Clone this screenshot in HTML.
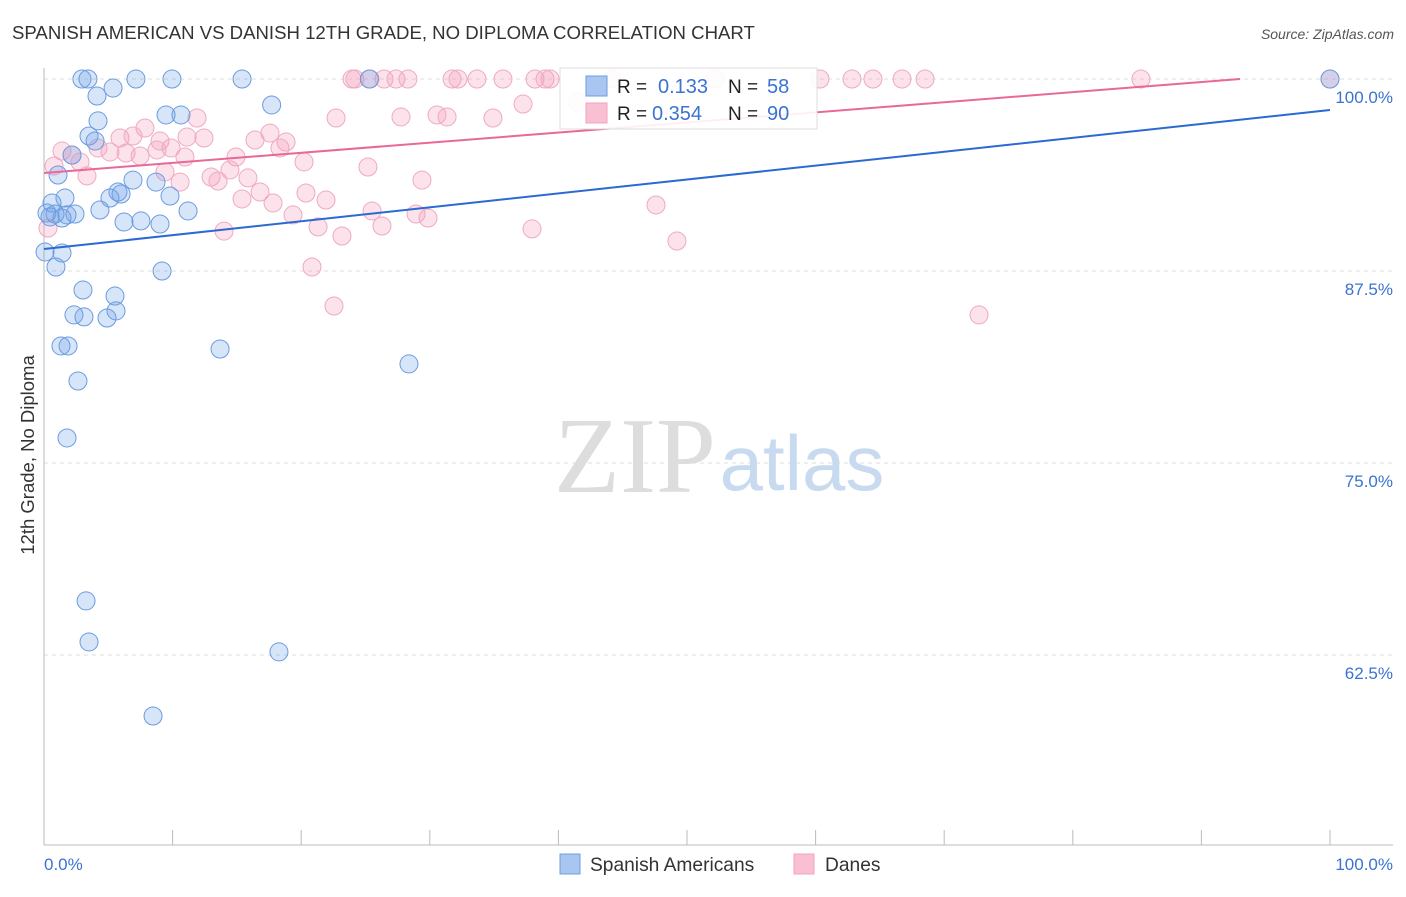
<!DOCTYPE html>
<html><head><meta charset="utf-8"><style>
body{margin:0;background:#fff;font-family:"Liberation Sans",sans-serif;}
svg text{font-family:"Liberation Sans",sans-serif;}
</style></head><body>
<svg id="chart" width="1406" height="892">
<text x="12" y="39" font-size="18.6" fill="#333">SPANISH AMERICAN VS DANISH 12TH GRADE, NO DIPLOMA CORRELATION CHART</text>
<text x="1394" y="39" font-size="14" fill="#555" text-anchor="end" font-style="italic">Source: ZipAtlas.com</text>
<g id="grid"></g>
<g>
<text x="635" y="492" font-size="108" fill="#ddd" text-anchor="middle" style="font-family:'Liberation Serif',serif">ZIP</text>
<text x="802" y="490" font-size="78" fill="#c8daf0" text-anchor="middle">atlas</text>
</g>
<g id="points"></g>
<g id="lines"></g>
<text x="34" y="455" font-size="18.5" fill="#333" text-anchor="middle" transform="rotate(-90 34 455)">12th Grade, No Diploma</text>
<text x="44" y="870" font-size="17" fill="#3b73d1">0.0%</text>
<text x="1393" y="870" font-size="17" fill="#3b73d1" text-anchor="end">100.0%</text>
<g>
<rect x="560" y="68" width="257" height="61" fill="#fff" fill-opacity="0.9" stroke="#ddd"/>
<rect x="586" y="76" width="21" height="20" fill="#a9c6f0" stroke="#6d9de0"/>
<rect x="586" y="103" width="21" height="20" fill="#f8c0d2" stroke="#f0a4bd"/>
<text x="617" y="93" font-size="19" fill="#222">R = </text><text x="658" y="93" font-size="20" fill="#3b73d1">0.133</text>
<text x="728" y="93" font-size="19" fill="#222">N = </text><text x="767" y="93" font-size="20" fill="#3b73d1">58</text>
<text x="617" y="120" font-size="19" fill="#222">R = </text><text x="652" y="120" font-size="20" fill="#3b73d1">0.354</text>
<text x="728" y="120" font-size="19" fill="#222">N = </text><text x="767" y="120" font-size="20" fill="#3b73d1">90</text>
</g>
<g>
<rect x="560" y="854" width="20" height="20" fill="#a9c6f0" stroke="#6d9de0"/>
<text x="590" y="871" font-size="19.2" fill="#333">Spanish Americans</text></g>
<g>
<rect x="794" y="854" width="20" height="20" fill="#f8c0d2" stroke="#f0a4bd"/>
<text x="825" y="871" font-size="19.2" fill="#333">Danes</text></g>
</svg>
<script>
const yTicks=[100,87.5,75,62.5];
const yTickLabels=["100.0%","87.5%","75.0%","62.5%"];
const xTickVals=[0,10,20,30,40,50,60,70,80,90,100];
const blueX=[2.95,3.42,7.15,9.95,15.4,25.3,100,5.37,4.12,17.7,9.49,10.65,4.2,3.5,3.97,2.18,1.09,6.92,8.71,5.75,5.99,5.13,1.63,0.62,9.8,4.35,11.2,0.23,0.86,1.79,2.41,0.47,1.4,6.22,7.54,9.02,0.08,1.4,0.93,9.18,3.03,5.52,5.6,2.33,3.11,4.9,1.32,1.87,13.69,2.64,28.38,1.79,3.27,3.5,18.27,8.48];
const blueY=[100,100,100,100,100,100,100,99.41,98.89,98.31,97.66,97.66,97.27,96.29,95.96,95.05,93.75,93.42,93.29,92.64,92.51,92.25,92.25,91.93,92.38,91.47,91.41,91.28,91.21,91.15,91.21,91.02,90.95,90.69,90.76,90.56,88.74,88.67,87.76,87.5,86.26,85.87,84.9,84.64,84.51,84.44,82.62,82.62,82.42,80.34,81.45,76.63,66.02,63.35,62.7,58.53];
const pinkX=[23.95,24.18,25.35,26.44,27.37,28.3,31.73,32.19,33.67,35.69,38.18,38.96,39.35,44.17,52.18,60.34,62.83,64.46,66.72,68.51,85.3,100,41.52,37.25,22.71,30.56,31.34,34.91,27.76,11.9,7.85,17.57,11.12,12.44,5.91,6.92,9.02,16.41,18.82,1.4,2.18,4.2,5.13,6.38,7.47,9.88,8.79,10.96,14.93,18.35,20.22,0.78,2.8,25.19,9.41,3.34,12.99,14.46,15.86,10.58,13.53,16.8,20.37,15.4,17.81,21.93,29.39,47.59,19.36,25.51,28.93,29.86,21.31,26.28,14.0,23.17,37.95,49.22,20.84,22.55,72.71,0.31];
const pinkY=[100,100,100,100,100,100,100,100,100,100,100,100,100,100,100,100,100,100,100,100,100,100,98.5,98.37,97.46,97.66,97.53,97.46,97.53,97.46,96.81,96.48,96.22,96.16,96.16,96.29,95.96,96.03,95.9,95.31,95.05,95.51,95.25,95.18,94.99,95.51,95.38,94.92,94.92,95.51,94.6,94.34,94.6,94.27,93.95,93.69,93.62,94.08,93.56,93.29,93.36,92.64,92.58,92.19,91.93,92.12,93.42,91.8,91.15,91.41,91.21,90.95,90.37,90.43,90.1,89.78,90.24,89.45,87.76,85.22,84.64,90.3];
const blueTrend=[88.93,97.98];
const pinkTrend=[93.88,100.46];
const NS="http://www.w3.org/2000/svg";
const X=v=>44+v*12.86;
const Y=v=>79+(100-v)*15.36;
function mk(tag,attrs,parent){const e=document.createElementNS(NS,tag);for(const k in attrs)e.setAttribute(k,attrs[k]);parent.appendChild(e);return e;}
const grid=document.getElementById('grid');
yTicks.forEach((t,i)=>{
 const l=mk('line',{x1:44,x2:1393,y1:Y(t),y2:Y(t),stroke:'#ddd','stroke-dasharray':'4,4'},grid);
 
 
 const tx=mk('text',{x:1393,y:Y(t)+24,'font-size':17,fill:'#3b73d1','text-anchor':'end'},grid);
 tx.textContent=yTickLabels[i];
 
 
});
const ax=mk('line',{x1:44,x2:1393,y1:845,y2:845,stroke:'#bbb'},grid);


const ay=mk('line',{x1:44,x2:44,y1:68,y2:845,stroke:'#bbb'},grid);


xTickVals.forEach(v=>{
 const t=mk('line',{x1:X(v),x2:X(v),y1:830,y2:845,stroke:'#bbb'},grid);
 
 
});
const pts=document.getElementById('points');
pinkX.forEach((x,i)=>{
 const c=mk('circle',{cx:X(x),cy:Y(pinkY[i]),r:9,fill:'rgba(244,160,188,0.3)',stroke:'#eeaac2','stroke-width':1},pts);
 
 
});
blueX.forEach((x,i)=>{
 const c=mk('circle',{cx:X(x),cy:Y(blueY[i]),r:9,fill:'rgba(110,160,230,0.28)',stroke:'#6b9be0','stroke-width':1},pts);
 
 
});
const lines=document.getElementById('lines');
const bl=mk('line',{x1:X(0),y1:Y(blueTrend[0]),x2:X(100),y2:Y(blueTrend[1]),stroke:'#2a6ad2','stroke-width':2},lines);


const slope=(pinkTrend[1]-pinkTrend[0])/100;
const xEnd=Math.min(100,(100-pinkTrend[0])/slope);
const pl=mk('line',{x1:X(0),y1:Y(pinkTrend[0]),x2:X(xEnd),y2:Y(pinkTrend[0]+slope*xEnd),stroke:'#e8689a','stroke-width':2},lines);


</script>
</body></html>
